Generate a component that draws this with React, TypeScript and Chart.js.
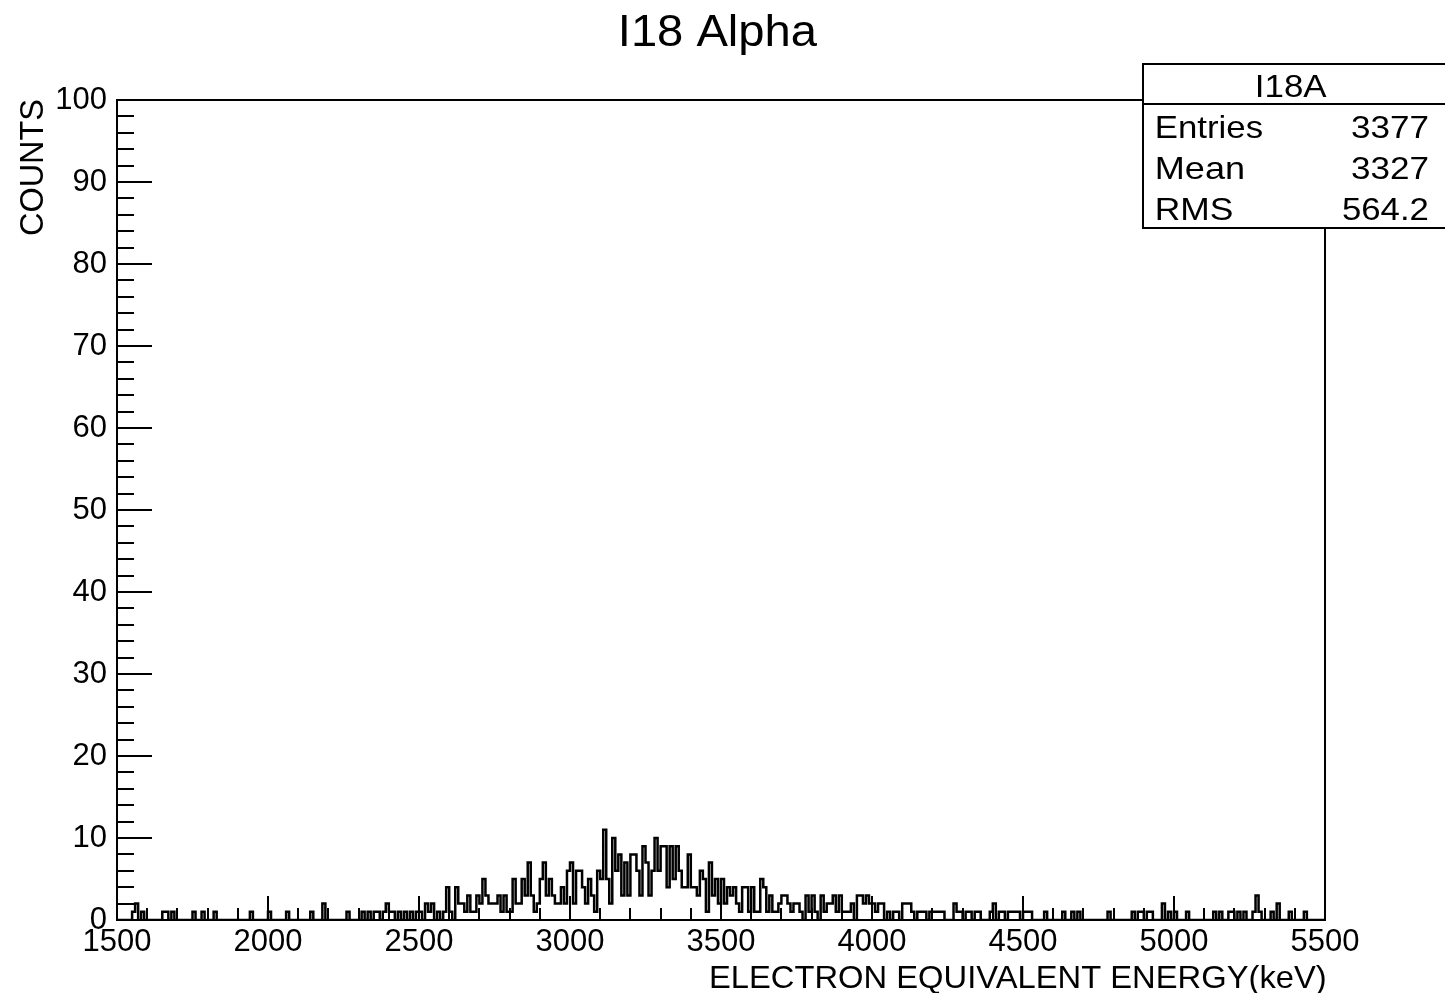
import React, { useEffect, useRef } from "react";
import { Chart, registerables } from "chart.js";

Chart.register(...registerables);

// ---- data (10 keV bins, counts per bin) ----
const X_MIN = 1500;
const X_MAX = 5500;
const BIN_WIDTH = 10;

// bins 1500 - 2490 keV
const counts1500 = [
  0, 0, 0, 0, 0, 0, 1, 2, 0, 1,
  0, 0, 0, 0, 0, 0, 1, 1, 0, 1,
  0, 0, 0, 0, 0, 0, 1, 0, 0, 1,
  0, 0, 0, 1, 0, 0, 0, 0, 0, 0,
  0, 0, 0, 0, 0, 1, 0, 0, 0, 0,
  0, 1, 0, 0, 0, 0, 0, 1, 0, 0,
  0, 0, 0, 0, 0, 1, 0, 0, 0, 2,
  0, 0, 0, 0, 0, 0, 0, 1, 0, 0,
  0, 0, 1, 0, 1, 0, 1, 1, 0, 1,
  2, 1, 1, 0, 1, 0, 1, 0, 1, 0,
];
// bins 2500 - 3490 keV
const counts2500 = [
  1, 1, 0, 2, 1, 2, 0, 1, 0, 1,
  4, 1, 0, 4, 2, 2, 1, 3, 1, 1,
  3, 2, 5, 3, 2, 2, 2, 3, 1, 3,
  1, 1, 5, 2, 2, 5, 3, 7, 3, 1,
  2, 5, 7, 3, 5, 3, 2, 2, 4, 2,
  6, 7, 2, 6, 6, 4, 2, 5, 3, 1,
  6, 5, 11, 5, 2, 10, 6, 8, 3, 7,
  3, 8, 8, 6, 3, 9, 7, 3, 6, 10,
  6, 9, 9, 4, 9, 5, 9, 6, 4, 4,
  8, 4, 4, 3, 6, 5, 1, 7, 3, 5,
];
// bins 3500 - 4490 keV
const counts3500 = [
  2, 5, 2, 4, 3, 4, 2, 1, 4, 4,
  1, 4, 1, 1, 5, 4, 1, 3, 1, 1,
  2, 3, 3, 2, 1, 2, 2, 1, 0, 3,
  1, 3, 1, 0, 3, 1, 2, 2, 3, 1,
  3, 1, 1, 1, 2, 0, 3, 3, 2, 3,
  2, 2, 1, 2, 2, 0, 1, 0, 1, 1,
  0, 2, 2, 2, 1, 0, 1, 1, 1, 0,
  1, 1, 1, 1, 1, 0, 0, 0, 2, 1,
  1, 0, 1, 1, 0, 1, 1, 0, 0, 0,
  1, 2, 0, 1, 1, 0, 1, 1, 1, 1,
];
// bins 4500 - 5490 keV
const counts4500 = [
  0, 1, 1, 1, 0, 0, 0, 0, 1, 0,
  0, 0, 0, 0, 1, 0, 0, 1, 0, 1,
  0, 0, 0, 0, 0, 0, 0, 0, 0, 1,
  0, 0, 0, 0, 0, 0, 0, 1, 0, 1,
  1, 0, 1, 1, 0, 0, 0, 2, 0, 1,
  0, 1, 0, 0, 0, 1, 0, 0, 0, 0,
  0, 0, 0, 0, 1, 0, 1, 0, 0, 1,
  1, 0, 1, 0, 1, 0, 0, 1, 3, 1,
  0, 0, 0, 1, 0, 2, 0, 0, 0, 1,
  0, 0, 0, 0, 1, 0, 0, 0, 0, 0,
];

const Y_MIN = 0;
const Y_MAX = 100;
const xLabelStep = 500;
const xMinorStep = 100;
const yLabelStep = 10;
const yMinorStep = 2;

const chartTitle = "I18 Alpha";
const xAxisTitle = "ELECTRON EQUIVALENT ENERGY(keV)";
const yAxisTitle = "COUNTS";
const statsName = "I18A";
const statsLabels = ["Entries", "Mean", "RMS"];
const statsValues = ["3377", "3327", "564.2"];

const FONT = '"Liberation Sans", Arial, Helvetica, sans-serif';

function drawFit(
  ctx: CanvasRenderingContext2D,
  text: string,
  x0: number,
  x1: number,
  baseline: number,
  size: number
) {
  ctx.save();
  ctx.font = `${size}px ${FONT}`;
  ctx.textAlign = "left";
  ctx.textBaseline = "alphabetic";
  const m = ctx.measureText(text);
  const inkLeft = -m.actualBoundingBoxLeft;
  const inkW = m.actualBoundingBoxRight + m.actualBoundingBoxLeft;
  const sx = (x1 - x0) / inkW;
  ctx.translate(x0, baseline);
  ctx.scale(sx, 1);
  ctx.fillText(text, -inkLeft, 0);
  ctx.restore();
}

const rootStylePlugin = {
  id: "rootStyle",
  afterDraw(chart: any) {
    const ctx: CanvasRenderingContext2D = chart.ctx;
    const { left, right, top, bottom } = chart.chartArea;
    const xs = chart.scales.x;
    const ys = chart.scales.y;
    ctx.save();
    ctx.strokeStyle = "#000";
    ctx.fillStyle = "#000";
    ctx.lineWidth = 2;

    // axis ticks (inward, ROOT style)
    ctx.beginPath();
    for (let v = Y_MIN; v <= Y_MAX; v += yMinorStep) {
      const y = Math.round(ys.getPixelForValue(v));
      const len = v % yLabelStep === 0 ? 35 : 17;
      ctx.moveTo(left, y);
      ctx.lineTo(left + len, y);
    }
    for (let e = X_MIN; e <= X_MAX; e += xMinorStep) {
      const x = Math.round(xs.getPixelForValue(e));
      const len = e % xLabelStep === 0 ? 24 : 12;
      ctx.moveTo(x, bottom);
      ctx.lineTo(x, bottom - len);
    }
    ctx.stroke();

    // frame
    ctx.strokeRect(left, top, right - left, bottom - top);

    // stats box
    ctx.fillStyle = "#fff";
    ctx.fillRect(1143, 64, 320, 164);
    ctx.strokeRect(1143, 64, 320, 164);
    ctx.beginPath();
    ctx.moveTo(1143, 104);
    ctx.lineTo(1463, 104);
    ctx.stroke();
    ctx.fillStyle = "#000";
    drawFit(ctx, statsName, 1257, 1327, 97, 31);
    const labelRight = [1262, 1243, 1232];
    const valueLeft = [1352, 1352, 1343];
    const baselines = [138, 179, 220];
    for (let i = 0; i < statsLabels.length; i++) {
      drawFit(ctx, statsLabels[i], 1157, labelRight[i], baselines[i], 32);
      drawFit(ctx, statsValues[i], valueLeft[i], 1428, baselines[i], 32);
    }

    // titles
    drawFit(ctx, chartTitle, 622, 818, 46, 45);
    drawFit(ctx, xAxisTitle, 711, 1325, 988, 32);
    ctx.save();
    ctx.translate(43, 235);
    ctx.rotate(-Math.PI / 2);
    drawFit(ctx, yAxisTitle, 0, 135, 0, 33);
    ctx.restore();

    ctx.restore();
  },
};

export default function App() {
  const canvasRef = useRef<HTMLCanvasElement | null>(null);

  useEffect(() => {
    const canvas = canvasRef.current;
    if (!canvas) return;
    const counts = [...counts1500, ...counts2500, ...counts3500, ...counts4500];
    const points = counts.map((c, i) => ({ x: X_MIN + i * BIN_WIDTH, y: c }));
    points.push({ x: X_MAX, y: counts[counts.length - 1] });

    const chart = new Chart(canvas, {
      type: "line",
      data: {
        datasets: [
          {
            data: points,
            stepped: "after",
            borderColor: "#000",
            borderWidth: 2.5,
            pointRadius: 0,
            fill: false,
          },
        ],
      },
      options: {
        responsive: false,
        maintainAspectRatio: false,
        animation: false,
        layout: { padding: { left: 0, top: 100, right: 120, bottom: 0 } },
        plugins: {
          legend: { display: false },
          tooltip: { enabled: false },
          title: { display: false },
        },
        scales: {
          x: {
            type: "linear",
            min: X_MIN,
            max: X_MAX,
            grid: { display: false, drawTicks: false },
            border: { display: false },
            ticks: {
              stepSize: xLabelStep,
              autoSkip: false,
              maxRotation: 0,
              minRotation: 0,
              padding: 4,
              color: "#000",
              font: { family: FONT, size: 31 },
              callback: (v: any) => String(v),
            },
            afterFit: (s: any) => {
              s.height = 73;
            },
          },
          y: {
            type: "linear",
            min: Y_MIN,
            max: Y_MAX,
            grid: { display: false, drawTicks: false },
            border: { display: false },
            ticks: {
              stepSize: yLabelStep,
              autoSkip: false,
              padding: 10,
              color: "#000",
              font: { family: FONT, size: 31 },
              callback: (v: any) => String(v),
            },
            afterFit: (s: any) => {
              s.width = 117;
            },
          },
        },
      },
      plugins: [rootStylePlugin],
    } as any);

    return () => chart.destroy();
  }, []);

  return (
    <div style={{ position: "absolute", left: 0, top: 0, width: 1445, height: 993, background: "#fff" }}>
      <canvas ref={canvasRef} width={1445} height={993} style={{ display: "block" }} />
    </div>
  );
}
